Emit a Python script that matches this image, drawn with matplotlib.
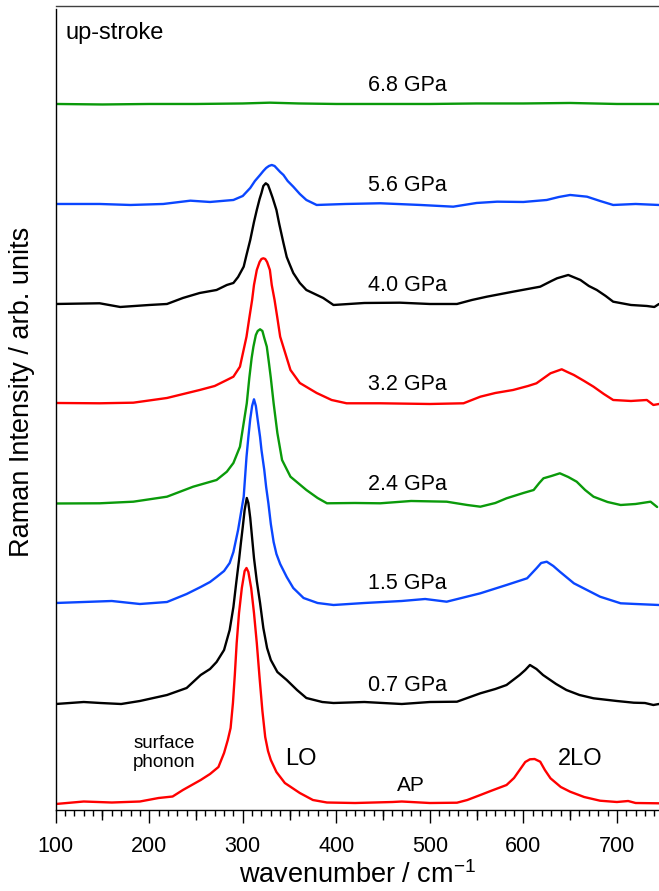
import numpy as np
import matplotlib
matplotlib.use("Agg")
import matplotlib.pyplot as plt
from matplotlib.ticker import MultipleLocator, NullLocator
from matplotlib.lines import Line2D

plt.rcParams['font.family'] = ['Liberation Sans', 'DejaVu Sans']
plt.rcParams['mathtext.fontset'] = 'custom'
plt.rcParams['mathtext.rm'] = 'Liberation Sans'

# Raman spectra, up-stroke series (relative intensity above each baseline, arb. units)
amb_wn = [100, 130, 160, 190, 210, 225, 236, 255, 265, 274, 280, 284, 287, 289.5, 291.5, 293.5, 296, 299, 302, 304,
          306, 309, 312, 315, 318, 321, 324, 327, 330, 336, 345, 361, 375, 390, 420, 460, 470, 500, 529, 540,
          554, 565, 582, 590, 596, 602, 607, 612, 618, 623, 629, 640, 650, 665, 682, 700, 712, 720, 745]
amb_int = [-1, 1.5, 0.5, 1.5, 5, 6.5, 13, 23, 29, 36, 50, 63, 75, 100, 128, 160, 190, 215, 232, 235,
           231, 215, 190, 160, 125, 92, 66, 52, 43, 31, 20, 10, 3, 0.5, 0, 1, 1.5, 0, 0.3, 3,
           8, 12, 18, 25, 33, 41, 43.7, 44, 41.3, 33, 24.7, 16, 11.3, 6, 2.3, 1, 2, 0, -0.3]

p07_wn = [100, 130, 148, 170, 190, 219, 240, 255, 265, 272, 280, 283, 286, 290, 293, 296, 298, 300, 302, 304.3,
          306, 308, 310, 312, 315, 318.5, 322, 326, 330, 337, 347, 358, 368, 385, 397, 430, 470, 500, 529, 554,
          570, 582, 596, 602, 607, 614, 621, 635, 646, 660, 675, 700, 718, 730, 739, 745]
p07_int = [-1, 1, 0, -1, 2, 8, 15, 28, 34, 41, 53, 63, 73, 96, 120, 143, 160, 176, 193, 205,
           200, 185, 165, 145, 122, 100, 75, 55, 43, 31, 23, 13, 5, 1, 0, 1, -1, 1, 1.3, 9.7,
           14, 18, 28, 33, 38, 34, 28, 19, 13, 8, 4.7, 2, 0.3, 0, -2, -1]

p15_wn = [100, 130, 160, 190, 219, 240, 255, 265, 272, 280, 286, 290, 295, 301, 304, 306, 308, 310, 312, 314,
          316, 318.5, 320, 323, 325, 327.4, 330, 333, 336, 340, 347, 354, 365, 380, 397, 430, 470, 495, 518, 554,
          582, 604, 614, 619, 625, 632, 639, 654, 668, 682, 704, 720, 745]
p15_int = [-1, 0, 1, -2, 0, 8, 15, 20, 25, 31, 39, 50, 72, 105.3, 145, 165, 183, 196, 202.7, 196,
           182, 165, 152, 132, 115, 98.7, 78, 60, 48, 38, 25, 14, 4, -1, -3, -1, 1, 3, 0.3, 8.7,
           17, 23.7, 33.7, 39, 40.3, 36, 30.3, 18.7, 12, 5.3, -1.3, -2, -3]

p24_wn = [100, 147, 183, 219, 247, 272, 283, 290, 297, 304.3, 307, 309.5, 311.4, 314, 316, 318.5, 321, 323, 325.7, 328,
          330, 333, 337, 342, 351, 368, 380, 390, 420, 447, 480, 518, 540, 554, 570, 582, 600, 611, 617, 621.5,
          630, 639, 648, 657, 666, 675, 690, 704, 720, 736, 743]
p24_int = [-0.5, -0.3, 1.3, 6.3, 16.3, 23, 31.3, 40, 56.3, 99.7, 125, 145, 156.3, 168, 172, 173.7, 172, 165, 156.3, 140,
           125, 99.7, 70, 43, 26.3, 13, 5, -0.3, 0, -0.3, 2, 1.3, -2, -3.7, 0, 4.7, 10, 13, 20, 24.7,
           27, 29.7, 26, 21.3, 13, 6.3, 1, -2, -1, 1.3, -4]

p32_wn = [100, 147, 183, 219, 254, 270, 283, 290, 297, 304, 307, 310, 312, 315, 318, 320, 322, 324, 326, 329,
          331, 334, 337, 340, 351, 361, 379, 395, 411, 447, 500, 536, 554, 570, 589, 605, 614, 629, 641, 647,
          654, 665, 675, 686, 696, 715, 732, 739, 745]
p32_int = [0, -0.3, 0.3, 5, 13, 17, 23, 26.3, 36.3, 66.3, 85, 103, 118, 133, 141, 144, 144.7, 144, 141, 133,
           118, 103, 85, 66.3, 33, 20, 10, 3, -0.3, -0.3, -1, -0.3, 6.3, 10, 13, 17, 19.7, 29.7, 33.7, 31,
           28, 22, 16.3, 9, 3, 2, 3, -2, -1]

p40_wn = [100, 147, 169, 200, 219, 236, 254, 272, 283, 290, 295, 301, 304, 308, 312, 315, 318, 320, 322, 324.6,
          327, 329, 332, 336, 339, 343.5, 347, 350, 354, 361, 368, 386, 397, 430, 468, 500, 529, 545, 561, 589,
          618, 630, 636, 648, 661, 670, 678.5, 688, 696, 715, 732, 740, 745]
p40_int = [0, 0.7, -3, -1, 0, 6, 11, 14, 19, 21, 27, 37.3, 49, 64, 82, 94, 105, 111, 118, 120.7,
           119, 114, 106, 94, 80, 61, 47, 40, 31, 21, 14, 6, -1, 1, 1.3, 0, 0, 4, 7.3, 12.3,
           17.3, 23, 25.7, 29, 24, 18, 14, 8, 2.3, -1, -2, -3, 0]

p56_wn = [100, 147, 180, 215, 244, 265, 290, 300, 308, 313, 318.5, 322, 325, 328, 331, 334, 337, 340, 343.5, 348,
          354, 361, 368, 379, 410, 447, 490, 525, 550, 572, 600, 625, 638, 650, 668, 682, 696, 720, 745]
p56_int = [0, 0, -1, 0, 3.3, 2, 4, 8, 16, 23, 29, 33, 36, 38, 39, 38, 35, 32, 29, 23,
           17.3, 10, 4, -1, 0, 0.7, -1, -2.7, 1, 2.3, 2, 4, 7, 9, 7.3, 3, -1, 0, -1]

p68_wn = [100, 150, 200, 250, 300, 329, 360, 400, 450, 500, 550, 600, 650, 700, 745]
p68_int = [0, -0.5, 0, 0, 0.5, 1.3, 0.5, 0, 0, 0, 0.5, 0.5, 1, 0, 0]

spectra = [(amb_wn, amb_int), (p07_wn, p07_int), (p15_wn, p15_int), (p24_wn, p24_int),
           (p32_wn, p32_int), (p40_wn, p40_int), (p56_wn, p56_int), (p68_wn, p68_int)]
offsets = [7, 107, 208, 307, 407, 506, 606, 706]
pressures = [None, "0.7 GPa", "1.5 GPa", "2.4 GPa", "3.2 GPa", "4.0 GPa", "5.6 GPa", "6.8 GPa"]
colors = ["#ff0000", "#000000", "#0a46ff", "#0a9a0a", "#ff0000", "#000000", "#0a46ff", "#0a9a0a"]

fig = plt.figure(figsize=(6.59, 8.91), dpi=100)
ax = fig.add_axes([0.0845, 0.0909, 0.9155, 0.8987])

for (wn, inten), off, col in zip(spectra, offsets, colors):
    ax.plot(wn, np.array(inten) + off, color=col, lw=1.7,
            solid_joinstyle='round', solid_capstyle='round')

for lab, off in zip(pressures, offsets):
    if lab:
        ax.text(476, off + 18, lab, ha='center', va='center', fontsize=15.5)

ax.text(216, 57, "surface\nphonon", ha='center', va='center', fontsize=13.5, linespacing=1.1)
ax.text(362, 51, "LO", ha='center', va='center', fontsize=17)
ax.text(661, 51, "2LO", ha='center', va='center', fontsize=17)
ax.text(480, 25, "AP", ha='center', va='center', fontsize=15)
ax.text(0.016, 0.963, "up-stroke", transform=ax.transAxes, ha='left', va='baseline', fontsize=17)

ax.set_xlim(100, 745)
ax.set_ylim(0, 800.7)
ax.set_yticks([])
for s in ['top', 'right']:
    ax.spines[s].set_visible(False)
for s in ['left', 'bottom']:
    ax.spines[s].set_linewidth(1.0)

ax.xaxis.set_major_locator(MultipleLocator(100))
ax.xaxis.set_minor_locator(MultipleLocator(10))
ax.tick_params(axis='x', which='major', direction='out', length=9.4, width=1.0, labelsize=15.5, pad=9)
ax.tick_params(axis='x', which='minor', direction='out', length=4.3, width=1.0)

# mid-length ticks at the 50s
sec = ax.secondary_xaxis('bottom')
sec.set_xticks(np.arange(150, 750, 100))
sec.xaxis.set_minor_locator(NullLocator())
sec.tick_params(length=7.2, width=1.0, labelbottom=False)
sec.spines['bottom'].set_visible(False)

fig.add_artist(Line2D([0.0845, 1.0], [1 - 5.7 / 891] * 2, color='#404040', lw=1.0))

fig.text(0.543, 1 - 883 / 891, "wavenumber / cm$^{-1}$", ha='center', va='baseline', fontsize=19.5)
fig.text(22 / 659, 1 - 392 / 891, "Raman Intensity / arb. units", rotation=90,
         ha='center', va='center', fontsize=19.5)

fig.savefig("out.png", dpi=100)
